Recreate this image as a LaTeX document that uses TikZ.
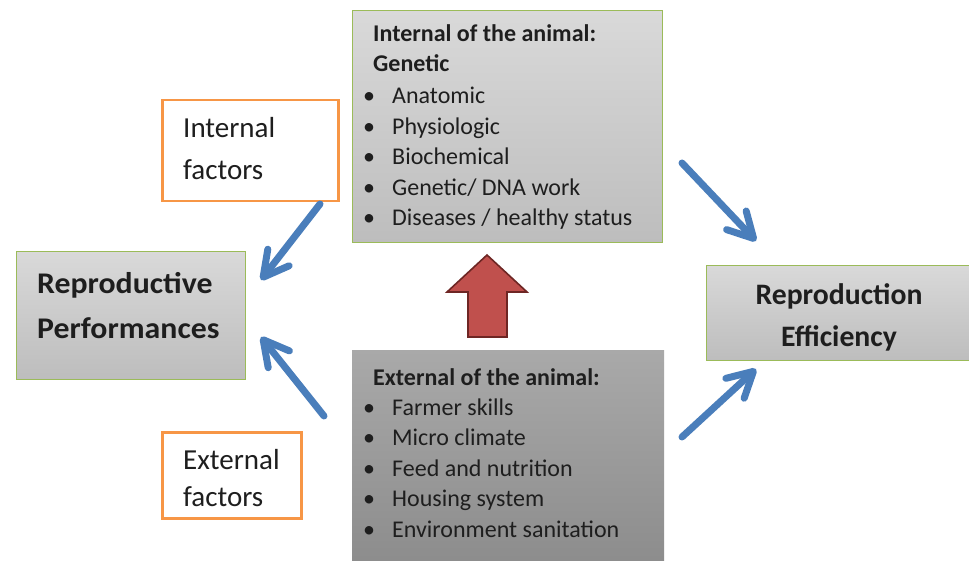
\documentclass[tikz,border=0pt]{standalone}
\usepackage{fontspec}
\setmainfont{Carlito}
\newfontfamily\widebold[FakeStretch=1.06]{Carlito}
\usetikzlibrary{arrows.meta}
\definecolor{boxgreen}{HTML}{9BBB59}
\definecolor{orangeb}{HTML}{F79646}
\definecolor{blueA}{HTML}{4A7EBB}
\definecolor{redA}{HTML}{C0504D}
\definecolor{redD}{HTML}{6E2624}
\definecolor{txt}{HTML}{1E1E1E}
\begin{document}
\begin{tikzpicture}[x=1pt,y=-1pt,
  lightbox/.style={draw=boxgreen, line width=1pt, top color=lgtop, bottom color=lgbot, anchor=north west, inner sep=0pt},
  darkbox/.style={top color=dktop, bottom color=dkbot, anchor=north west, inner sep=0pt},
  factorbox/.style={draw=orangeb, line width=2.5pt, fill=white, anchor=north west, inner sep=0pt},
  listtext/.style={anchor=base west, inner sep=0pt, text=txt, font=\fontsize{24}{28}\selectfont},
  titletext/.style={anchor=base west, inner sep=0pt, text=txt, font=\fontsize{24}{28}\selectfont\bfseries},
  factortext/.style={anchor=base west, inner sep=0pt, text=txt, font=\fontsize{29}{34}\selectfont},
  bigtext/.style={anchor=base, inner sep=0pt, text=txt, font=\fontsize{29.7}{34}\selectfont\bfseries},
  widetext/.style={anchor=base west, inner sep=0pt, text=txt, font=\widebold\fontsize{30}{34}\selectfont\bfseries},
  bluearrow/.style={draw=blueA, line width=7pt, line cap=round, -{Straight Barb[length=25pt,width=27pt,round]}},
  redarrow/.style={fill=redA, draw=redD, line width=1.6pt, line join=miter}
]
\definecolor{lgtop}{HTML}{D9D9D9}
\definecolor{lgbot}{HTML}{BDBDBD}
\definecolor{dktop}{HTML}{A9A9A9}
\definecolor{dkbot}{HTML}{8C8C8C}
\useasboundingbox (0,0) rectangle (969,561);
\fill[white] (0,0) rectangle (969,561);

% boxes
\node[lightbox, minimum width=310pt, minimum height=232pt] (intbox) at (352,10) {};
\node[darkbox, minimum width=312pt, minimum height=216pt] (extbox) at (352,350) {};
\node[lightbox, minimum width=229pt, minimum height=128pt] (rp) at (16,251) {};
\node[lightbox, minimum width=268pt, minimum height=95pt] (re) at (706,265) {};
\node[factorbox, minimum width=176pt, minimum height=101pt] (intf) at (161,99) {};
\node[factorbox, minimum width=139pt, minimum height=86pt] (extf) at (161,431) {};

% internal box text
\node[titletext] (it1) at (373,42) {Internal of the animal:};
\node[titletext] (it2) at (373,72) {Genetic};
\foreach \y/\t [count=\i] in {104/Anatomic, 135/Physiologic, 165/Biochemical, 196/{Genetic/ DNA work}, 226/{Diseases / healthy status}}{
  \node[listtext] (ib\i) at (363,\y) {•};
  \node[listtext] (il\i) at (392,\y) {\t};
}

% external box text
\node[titletext] (et1) at (373,385) {External of the animal:};
\foreach \y/\t [count=\i] in {415/Farmer skills, 445/Micro climate, 476/Feed and nutrition, 506/Housing system, 537/Environment sanitation}{
  \node[listtext] (eb\i) at (363,\y) {•};
  \node[listtext] (el\i) at (392,\y) {\t};
}

% factor boxes text
\node[factortext] (ift1) at (183,138) {Internal};
\node[factortext] (ift2) at (183,180) {factors};
\node[factortext] (eft1) at (183,469) {External};
\node[factortext] (eft2) at (183,506) {factors};

% outcome boxes text
\node[widetext] (rpt1) at (37,294) {Reproductive};
\node[widetext] (rpt2) at (37,338) {Performances};
\node[bigtext] (ret1) at (839,305) {Reproduction};
\node[bigtext] (ret2) at (839,346) {Efficiency};

% red arrow
\draw[redarrow] (487,255) -- (527,292) -- (507,292) -- (507,337) -- (468,337) -- (468,292) -- (447,292) -- cycle;

% blue arrows
\coordinate (a1s) at (320,204);
\coordinate (a1e) at (261,280);
\coordinate (a2s) at (324,416);
\coordinate (a2e) at (261,337);
\coordinate (a3s) at (682,163);
\coordinate (a3e) at (756,241);
\coordinate (a4s) at (682,437);
\coordinate (a4e) at (756,369);
\draw[bluearrow] (a1s) -- (a1e);
\draw[bluearrow] (a2s) -- (a2e);
\draw[bluearrow] (a3s) -- (a3e);
\draw[bluearrow] (a4s) -- (a4e);
\end{tikzpicture}
\end{document}
